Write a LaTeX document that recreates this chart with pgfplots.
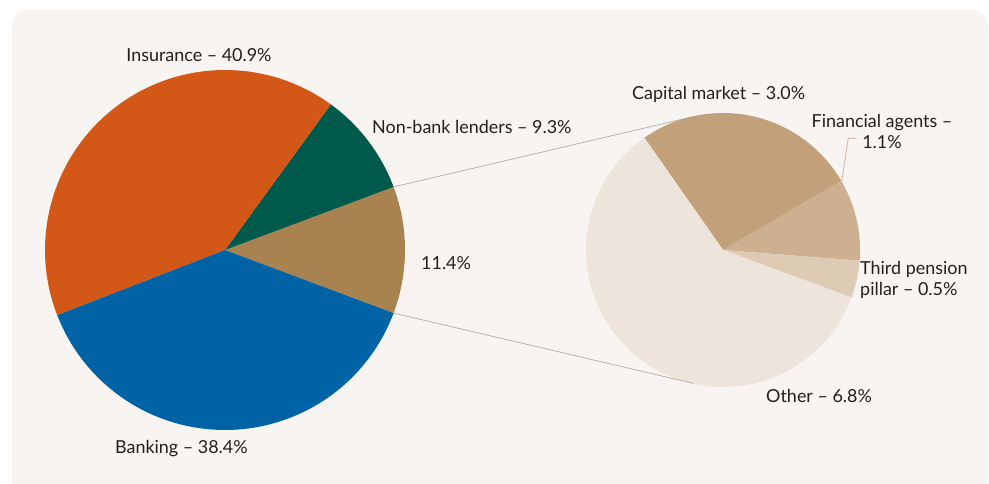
\documentclass[border=0pt]{standalone}
\usepackage{pgfplots}
\pgfplotsset{compat=1.18}
\usepackage{fontspec}
\setmainfont{Lato}
\definecolor{panel}{HTML}{F7F4F1}
\definecolor{cIns}{HTML}{D35716}
\definecolor{cNon}{HTML}{005A4B}
\definecolor{cOth}{HTML}{A8834F}
\definecolor{cBank}{HTML}{0063A6}
\definecolor{cCap}{HTML}{C1A07A}
\definecolor{cFin}{HTML}{CDB08F}
\definecolor{cThird}{HTML}{DDCBB5}
\definecolor{cRest}{HTML}{EDE5DB}
\definecolor{txt}{HTML}{231F20}
\definecolor{conn}{HTML}{A3A3A3}
\begin{document}
\begin{tikzpicture}
\begin{axis}[width=989bp, height=484bp, scale only axis,
  xmin=0, xmax=989, ymin=0, ymax=484, hide axis, clip=true,
  every axis plot/.append style={draw=none, samples=90, variable=\t},
  nodes={font=\fontsize{18}{21}\selectfont, text=txt, inner sep=0pt}]
\fill[white] (axis cs:0,0) rectangle (axis cs:989,484);
\fill[panel, rounded corners=16bp] (axis cs:12,-40) rectangle (axis cs:988,474);
% ---- left pie: centre (225,234), r=180; shares in percent
% Other (11.4) centred on 0 deg, then counter-clockwise: Non-bank 9.3, Insurance 40.9, Banking 38.4
\addplot[fill=cOth, domain={-11.4/2*3.6}:{11.4/2*3.6}] ({225+180*cos(t)},{234+180*sin(t)}) -- (axis cs:225,234) -- cycle;
\addplot[fill=cNon, domain={11.4/2*3.6}:{(11.4/2+9.3)*3.6}] ({225+180*cos(t)},{234+180*sin(t)}) -- (axis cs:225,234) -- cycle;
\addplot[fill=cIns, domain={(11.4/2+9.3)*3.6}:{(11.4/2+9.3+40.9)*3.6}] ({225+180*cos(t)},{234+180*sin(t)}) -- (axis cs:225,234) -- cycle;
\addplot[fill=cBank, domain={(11.4/2+9.3+40.9)*3.6}:{(11.4/2+9.3+40.9+38.4)*3.6}] ({225+180*cos(t)},{234+180*sin(t)}) -- (axis cs:225,234) -- cycle;
% ---- right pie: centre (723,234), r=137; shares of 11.4, clockwise from 125 deg
\addplot[fill=cCap, domain={125-3.0/11.4*360}:{125}] ({723+137*cos(t)},{234+137*sin(t)}) -- (axis cs:723,234) -- cycle;
\addplot[fill=cFin, domain={125-(3.0+1.1)/11.4*360}:{125-3.0/11.4*360}] ({723+137*cos(t)},{234+137*sin(t)}) -- (axis cs:723,234) -- cycle;
\addplot[fill=cThird, domain={125-(3.0+1.1+0.5)/11.4*360}:{125-(3.0+1.1)/11.4*360}] ({723+137*cos(t)},{234+137*sin(t)}) -- (axis cs:723,234) -- cycle;
\addplot[fill=cRest, domain={125-360}:{125-(3.0+1.1+0.5)/11.4*360}] ({723+137*cos(t)},{234+137*sin(t)}) -- (axis cs:723,234) -- cycle;
% connectors
\draw[conn, line width=0.6pt] (axis cs:393.6,297.1) -- (axis cs:693,367.3);
\draw[conn, line width=0.6pt] (axis cs:393.6,170.9) -- (axis cs:693,100.7);
\draw[cOth!70, line width=0.6pt] (axis cs:841.7,302.3) -- (axis cs:848.3,345.7) -- (axis cs:856.7,345.7);
% labels
\node[anchor=center] at (axis cs:199,429) {Insurance – 40.9\%};
\node[anchor=west] at (axis cs:372,357) {Non-bank lenders – 9.3\%};
\node[anchor=west] at (axis cs:421,221) {11.4\%};
\node[anchor=west] at (axis cs:115,35) {Banking – 38.4\%};
\node[anchor=west] at (axis cs:632,390) {Capital market – 3.0\%};
\node[anchor=center, align=center] at (axis cs:882,352.5) {Financial agents –\\1.1\%};
\node[anchor=west, align=left] at (axis cs:860,204.5) {Third pension\\pillar – 0.5\%};
\node[anchor=west] at (axis cs:766,88) {Other – 6.8\%};
\end{axis}
\end{tikzpicture}
\end{document}
